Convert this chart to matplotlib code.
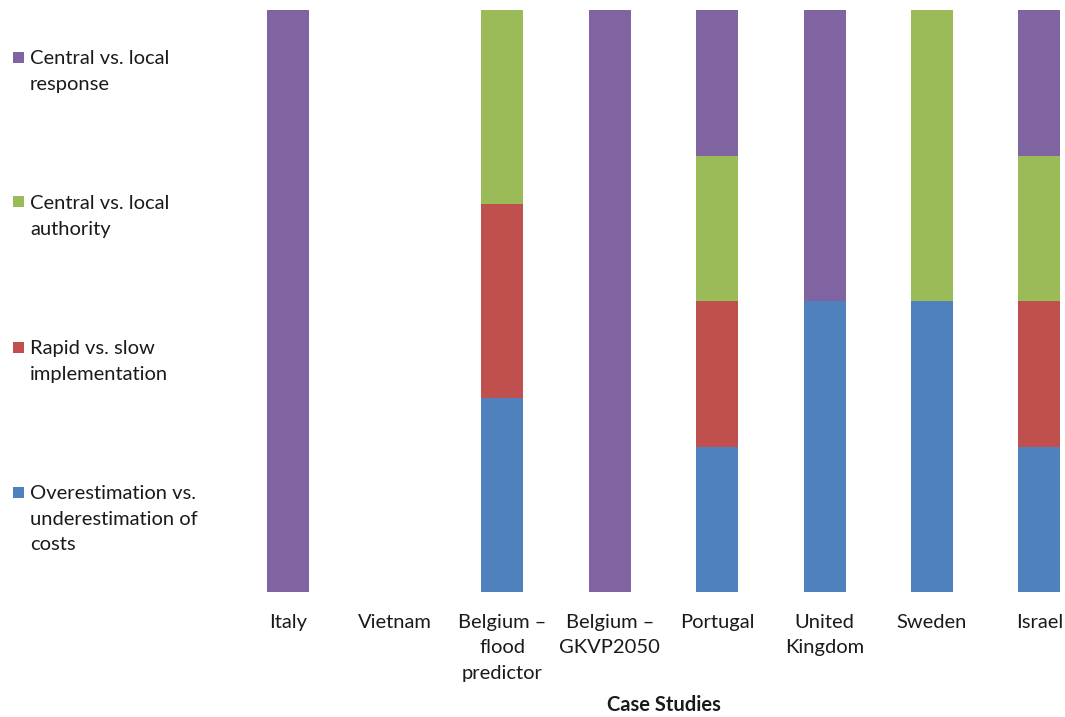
import matplotlib
matplotlib.use("Agg")
import matplotlib.pyplot as plt
from matplotlib.patches import Rectangle
import numpy as np

plt.rcParams['font.family'] = ['Lato', 'DejaVu Sans']

categories = ["Italy", "Vietnam", "Belgium \u2013\nflood\npredictor", "Belgium \u2013\nGKVP2050",
              "Portugal", "United\nKingdom", "Sweden", "Israel"]
series_names = ["Overestimation vs.\nunderestimation of\ncosts",
                "Rapid vs. slow\nimplementation",
                "Central vs. local\nauthority",
                "Central vs. local\nresponse"]
costs     = [0, 0, 1, 0, 1, 1, 1, 1]
rapid     = [0, 0, 1, 0, 1, 0, 0, 1]
authority = [0, 0, 1, 0, 1, 0, 1, 1]
response  = [1, 0, 0, 1, 1, 1, 0, 1]
colors = ["#4F81BD", "#C0504D", "#9BBB59", "#8064A2"]

W, H = 1065, 717
fig = plt.figure(figsize=(W / 100, H / 100), dpi=100)
ax_left, ax_right, ax_top, ax_bottom = 234, 1093, 10, 592
ax = fig.add_axes([ax_left / W, 1 - ax_bottom / H, (ax_right - ax_left) / W, (ax_bottom - ax_top) / H])

data = np.array([costs, rapid, authority, response], dtype=float)
totals = data.sum(axis=0)
pct = np.divide(data, totals, out=np.zeros_like(data), where=totals > 0) * 100
x = np.arange(len(categories))
bottom = np.zeros(len(categories))
for vals, c in zip(pct, colors):
    ax.bar(x, vals, bottom=bottom, width=0.39, color=c, edgecolor='none')
    bottom += vals

ax.set_xlim(-0.5, len(categories) - 0.5)
ax.set_ylim(0, 100)
ax.set_xticks(x)
ax.set_xticklabels(categories, fontsize=14.5, linespacing=1.62, color='#1a1a1a')
ax.tick_params(axis='x', length=0, pad=15.5)
ax.set_yticks([])
for s in ax.spines.values():
    s.set_visible(False)

fig.text(663.5 / W, 1 - 705 / H, "Case Studies", ha='center', va='center',
         fontsize=14.5, fontweight='bold', color='#1a1a1a')

# legend (drawn manually, top to bottom: response, authority, rapid, costs)
leg_y = [57, 202, 347, 492]
for yy, name, c in zip(leg_y, series_names[::-1], colors[::-1]):
    fig.add_artist(Rectangle((13 / W, 1 - (yy + 5.5) / H), 11 / W, 11 / H,
                             transform=fig.transFigure, color=c, lw=0))
    fig.text(30 / W, 1 - (yy - 7) / H, name, ha='left', va='top',
             fontsize=14.5, linespacing=1.62, color='#1a1a1a')

fig.savefig("out.png", dpi=100)
